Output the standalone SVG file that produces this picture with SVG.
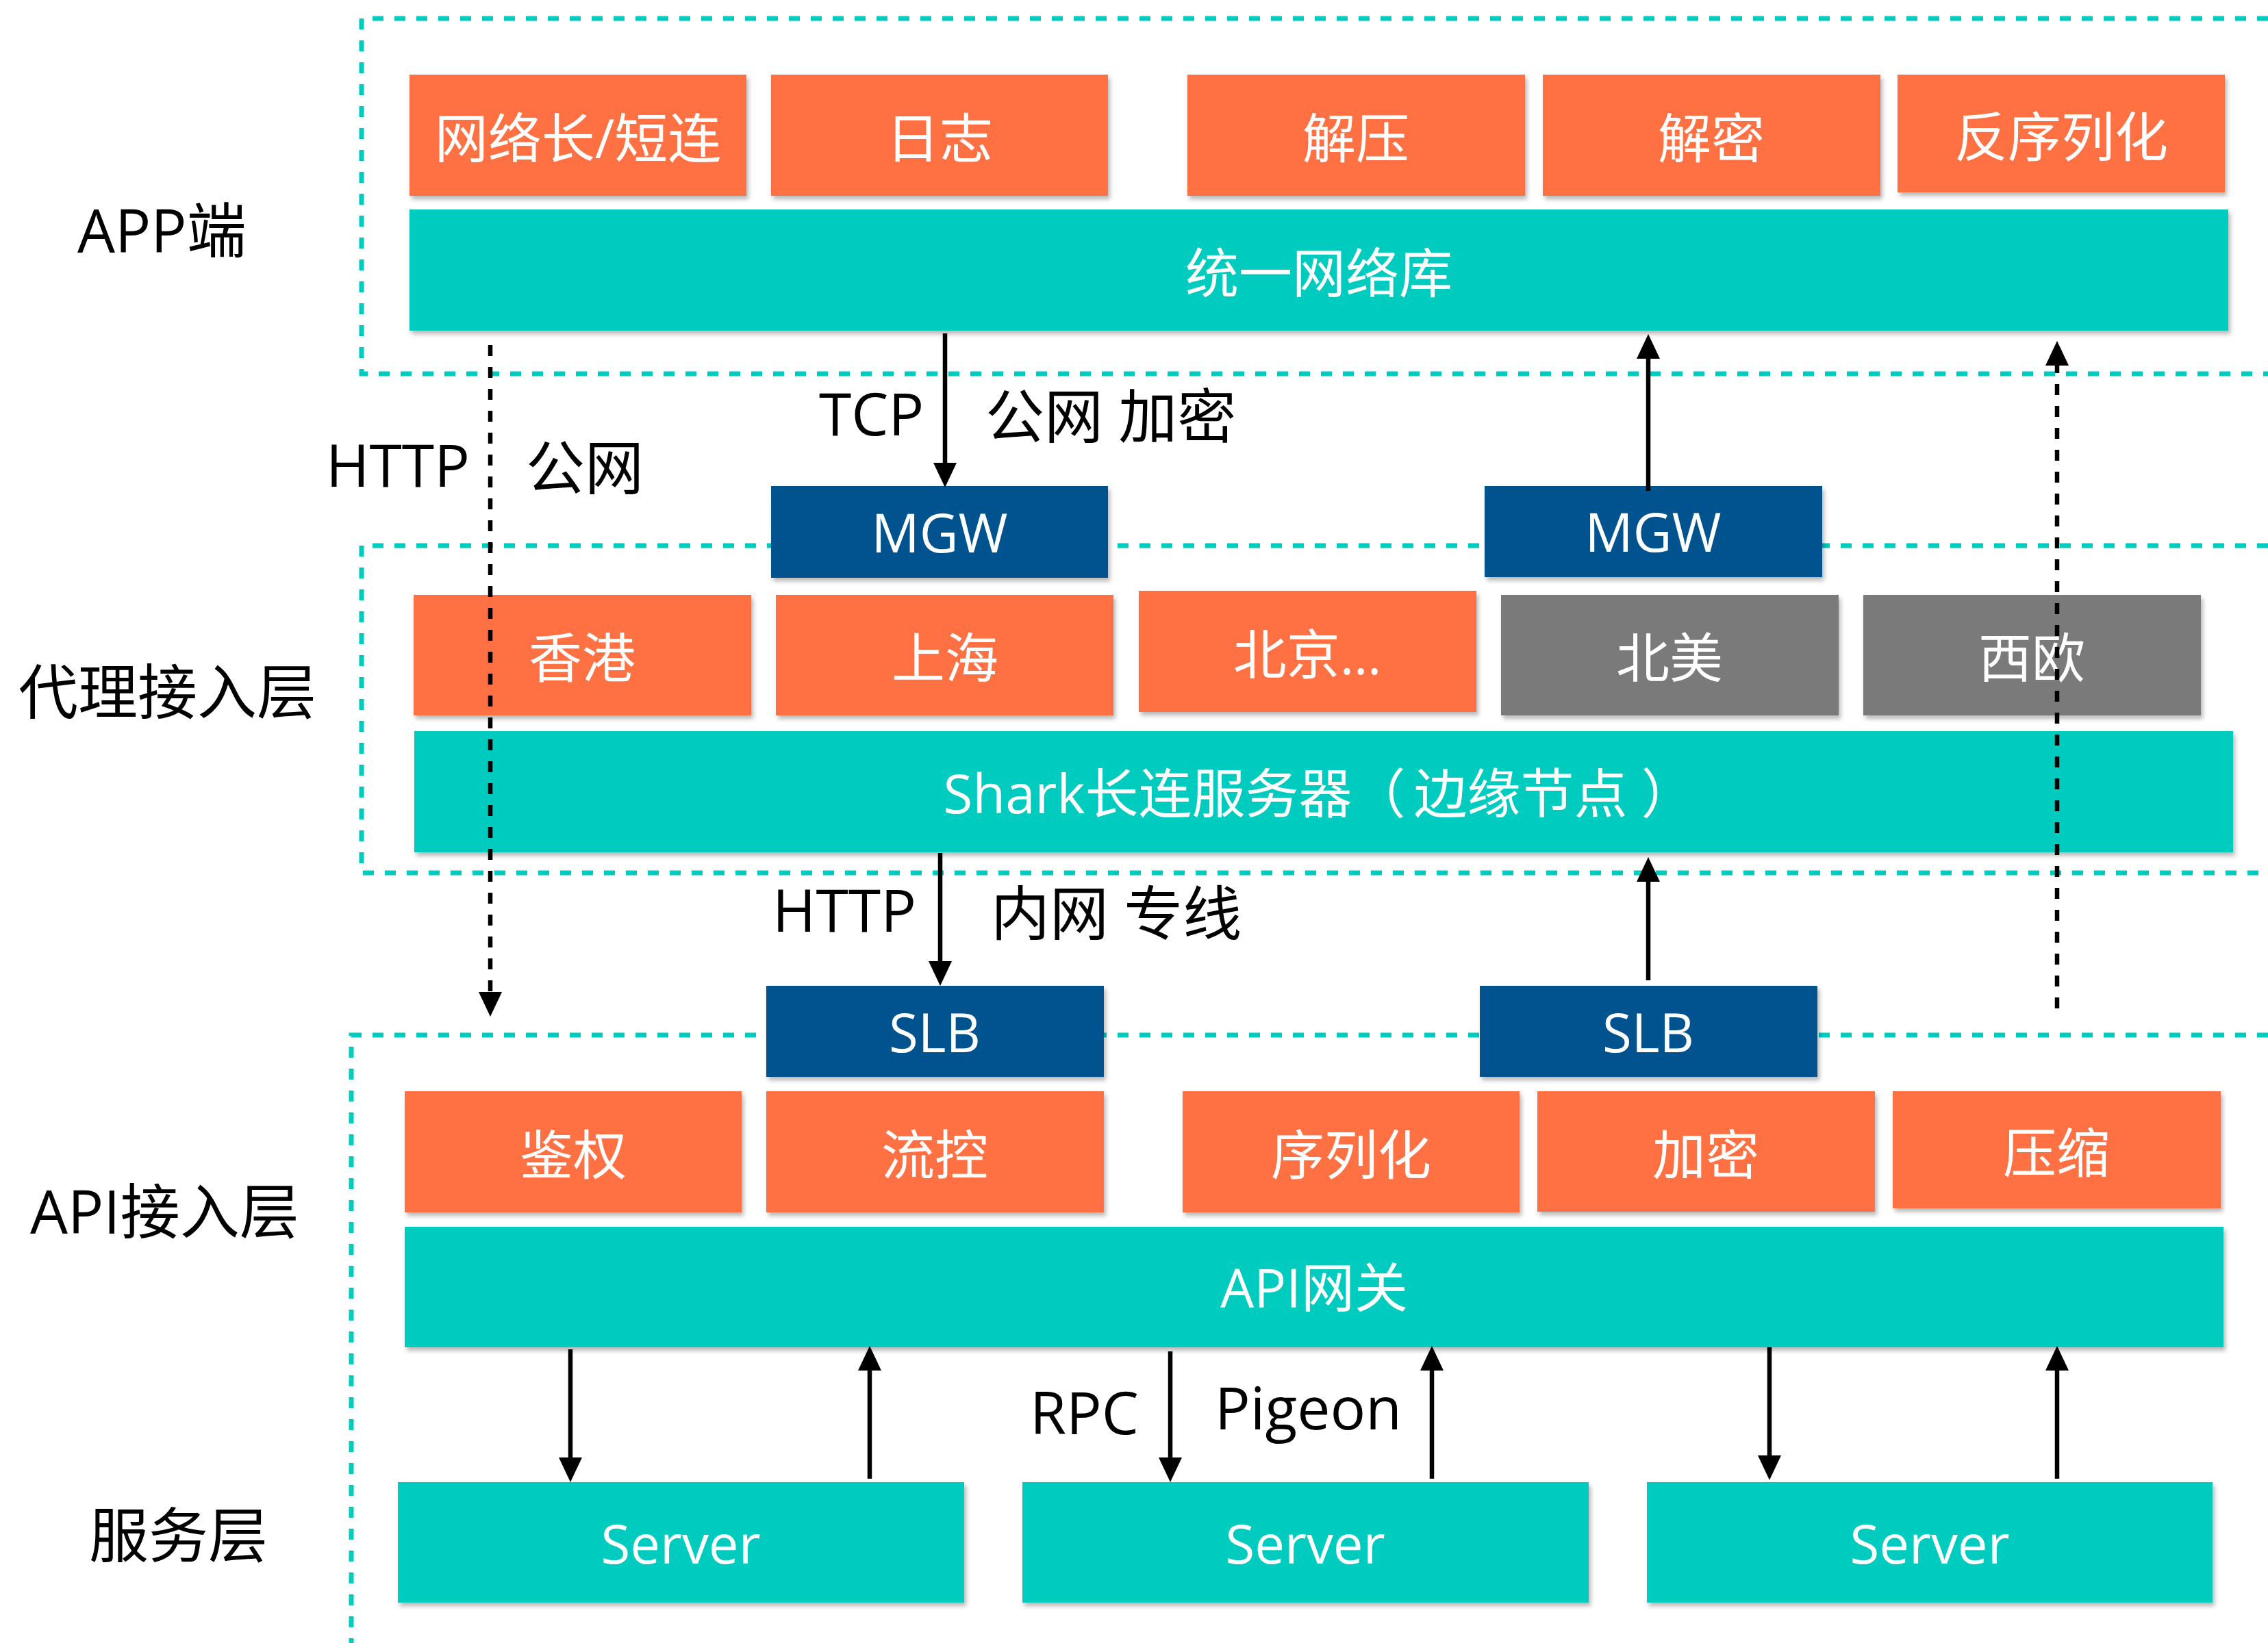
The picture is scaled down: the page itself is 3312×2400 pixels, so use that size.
<svg xmlns="http://www.w3.org/2000/svg" width="3312" height="2400" viewBox="0 0 3312 2400">
<style>
text{font-family:'Open Sans','Noto Sans CJK SC',sans-serif}
.o{fill:#FF6F42}
.t{fill:#00CBBF}
.b{fill:#00538F}
.g{fill:#7A7A7A}
.sh{filter:url(#ds)}
.bt{fill:#fff;font-size:78px;text-anchor:middle}
.lbl{fill:#000;font-size:86px}
.layer{fill:#000;font-size:87px}
.zone{fill:none;stroke:#00CBBF;stroke-width:7;stroke-dasharray:16 16}
.arr{stroke:#000;stroke-width:6.5;fill:none;marker-end:url(#ah)}
.dash{stroke-dasharray:16 16}
</style>
<defs>
<filter id="ds" x="-5%" y="-10%" width="110%" height="130%">
<feDropShadow dx="3" dy="5" stdDeviation="3" flood-color="#000" flood-opacity="0.28"/>
</filter>
<marker id="ah" viewBox="0 0 36 34" refX="1" refY="17" markerWidth="36" markerHeight="34" orient="auto" markerUnits="userSpaceOnUse">
<path d="M0,0 L36,17 L0,34 z" fill="#000"/>
</marker>
</defs>
<rect width="3312" height="2400" fill="#fff"/>

<g id="zones">
<path class="zone" d="M3312,27 H528 V546 H3312"/>
<path class="zone" d="M3312,797 H528 V1275 H3312"/>
<path class="zone" d="M3312,1512 H513 V2400"/>
</g>

<g id="layer-labels">
<text class="layer" x="113" y="369">APP端</text>
<text class="layer" x="27" y="1043">代理接入层</text>
<text class="layer" x="44" y="1802">API接入层</text>
<text class="layer" x="130" y="2275">服务层</text>
</g>

<g id="n-wangluo"><rect class="o sh" x="598" y="109" width="492" height="177"/><text class="bt" x="844" y="231">网络长/短连</text></g>
<g id="n-rizhi"><rect class="o sh" x="1126" y="109" width="492" height="177"/><text class="bt" x="1372" y="231">日志</text></g>
<g id="n-jieya"><rect class="o sh" x="1734" y="109" width="493" height="177"/><text class="bt" x="1980" y="231">解压</text></g>
<g id="n-jiemi"><rect class="o sh" x="2253" y="109" width="493" height="177"/><text class="bt" x="2499" y="231">解密</text></g>
<g id="n-fanxulie"><rect class="o sh" x="2771" y="109" width="478" height="172"/><text class="bt" x="3010" y="229">反序列化</text></g>
<g id="n-tongyi"><rect class="t sh" x="598" y="306" width="2656" height="177"/><text class="bt" x="1926" y="428">统一网络库</text></g>

<g id="n-mgw1"><rect class="b sh" x="1126" y="710" width="492" height="134"/><text class="bt" x="1372" y="807">MGW</text></g>
<g id="n-mgw2"><rect class="b sh" x="2168" y="710" width="493" height="133"/><text class="bt" x="2414" y="806">MGW</text></g>

<g id="n-xianggang"><rect class="o sh" x="604" y="869" width="493" height="176"/><text class="bt" x="850" y="990">香港</text></g>
<g id="n-shanghai"><rect class="o sh" x="1133" y="869" width="493" height="176"/><text class="bt" x="1380" y="990">上海</text></g>
<g id="n-beijing"><rect class="o sh" x="1663" y="863" width="493" height="177"/><text class="bt" x="1909" y="985">北京…</text></g>
<g id="n-beimei"><rect class="g sh" x="2192" y="869" width="493" height="176"/><text class="bt" x="2438" y="990">北美</text></g>
<g id="n-xiou"><rect class="g sh" x="2721" y="869" width="493" height="176"/><text class="bt" x="2967" y="990">西欧</text></g>
<g id="n-shark"><rect class="t sh" x="605" y="1068" width="2656" height="177"/><text class="bt" x="1926" y="1188">Shark长连服务器（<tspan dx="12">边缘节点</tspan><tspan dx="20">）</tspan></text></g>

<g id="n-slb1"><rect class="b sh" x="1119" y="1440" width="493" height="133"/><text class="bt" x="1365" y="1537">SLB</text></g>
<g id="n-slb2"><rect class="b sh" x="2161" y="1440" width="493" height="133"/><text class="bt" x="2407" y="1537">SLB</text></g>

<g id="n-jianquan"><rect class="o sh" x="591" y="1594" width="492" height="177"/><text class="bt" x="837" y="1716">鉴权</text></g>
<g id="n-liukong"><rect class="o sh" x="1119" y="1594" width="493" height="177"/><text class="bt" x="1365" y="1716">流控</text></g>
<g id="n-xulie"><rect class="o sh" x="1727" y="1594" width="492" height="177"/><text class="bt" x="1973" y="1716">序列化</text></g>
<g id="n-jiami"><rect class="o sh" x="2245" y="1594" width="493" height="176"/><text class="bt" x="2491" y="1716">加密</text></g>
<g id="n-yasuo"><rect class="o sh" x="2764" y="1594" width="479" height="171"/><text class="bt" x="3003" y="1713">压缩</text></g>
<g id="n-apigw"><rect class="t sh" x="591" y="1792" width="2656" height="176"/><text class="bt" x="1919" y="1910">API网关</text></g>

<g id="n-server1"><rect class="t sh" x="581" y="2165" width="827" height="176"/><text class="bt" x="994" y="2284">Server</text></g>
<g id="n-server2"><rect class="t sh" x="1493" y="2165" width="827" height="176"/><text class="bt" x="1906" y="2284">Server</text></g>
<g id="n-server3"><rect class="t sh" x="2405" y="2165" width="826" height="176"/><text class="bt" x="2818" y="2284">Server</text></g>

<g id="connectors">
<line class="arr" x1="1380" y1="487" x2="1380" y2="677"/>
<line class="arr" x1="2407" y1="717" x2="2407" y2="523"/>
<line class="arr" x1="1373" y1="1246" x2="1373" y2="1405"/>
<line class="arr" x1="2407" y1="1432" x2="2407" y2="1287"/>
<line class="arr dash" x1="716" y1="504" x2="716" y2="1450"/>
<line class="arr dash" x1="3004" y1="1473" x2="3004" y2="533"/>
<line class="arr" x1="833" y1="1971" x2="833" y2="2130"/>
<line class="arr" x1="1270" y1="2160" x2="1270" y2="2001"/>
<line class="arr" x1="1709" y1="1974" x2="1709" y2="2130"/>
<line class="arr" x1="2091" y1="2160" x2="2091" y2="2001"/>
<line class="arr" x1="2584" y1="1968" x2="2584" y2="2127"/>
<line class="arr" x1="3004" y1="2160" x2="3004" y2="2001"/>
</g>

<g id="connector-labels">
<text class="lbl" x="476" y="711">HTTP</text>
<text class="lbl" x="768" y="715">公网</text>
<text class="lbl" x="1196" y="636">TCP</text>
<text class="lbl" x="1439" y="640">公网 加密</text>
<text class="lbl" x="1128" y="1361">HTTP</text>
<text class="lbl" x="1447" y="1366">内网 专线</text>
<text class="lbl" x="1504" y="2095">RPC</text>
<text class="lbl" x="1774" y="2088">Pigeon</text>
</g>
</svg>
